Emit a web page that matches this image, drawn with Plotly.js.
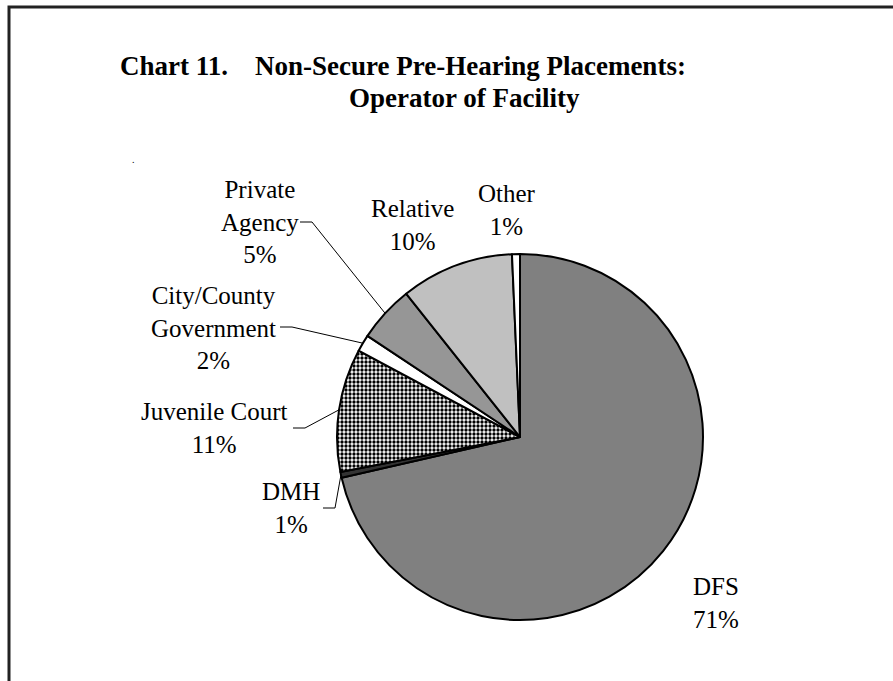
<!DOCTYPE html>
<html>
<head>
<meta charset="utf-8">
<script src="https://cdn.plot.ly/plotly-3.0.1.min.js"></script>
<style>
  html, body { margin: 0; padding: 0; background: #fff; }
  #chart { width: 893px; height: 681px; }
</style>
</head>
<body>
<div id="chart"></div>
<script>
// Données du graphique
const operators = ['DFS', 'DMH', 'Juvenile Court', 'City/County Government', 'Private Agency', 'Relative', 'Other'];
const shares = [71.5, 0.5, 10.9, 1.5, 5.0, 10.0, 0.7];
const shownPct = ['71%', '1%', '11%', '2%', '5%', '10%', '1%'];
const labelLines = ['DFS', 'DMH', 'Juvenile Court', 'City/County<br>Government', 'Private<br>Agency', 'Relative', 'Other'];

const W = 893, H = 681;
const fill = ['#808080', '#333333', '#ffffff', '#ffffff', '#969696', '#c0c0c0', '#ffffff'];

// Géométrie du camembert (pixels)
const cx = 520, cy = 437, R = 183;
const px = x => x / W;
const py = y => 1 - y / H;

// Positions des étiquettes (centre du bloc, pixels)
const labelPos = [
    [716, 603], [291, 508], [214, 428], [213, 328], [260, 222], [412, 225], [507, 210]
];
// Départ des traits de rappel (null = pas de trait)
const leaderStart = [null, [323, 508], [293, 428], [280, 327], [300, 222], null, null];

// Angle médian de chaque part (sens horaire depuis midi)
const total = shares.reduce((t, v) => t + v, 0);
let cum = 0;
const midAngle = shares.map(v => {
    const a = (cum + v / 2) / total * 2 * Math.PI;
    cum += v;
    return a;
});

const annotations = [];
const shapes = [];

// Titre
annotations.push({
    text: 'Chart 11.\u00a0\u00a0\u00a0\u00a0Non-Secure Pre-Hearing Placements:',
    x: px(118), y: py(66), xref: 'paper', yref: 'paper',
    xanchor: 'left', yanchor: 'middle', showarrow: false,
    font: { family: 'Liberation Serif, Times New Roman, serif', size: 27, color: '#000', weight: 'bold' }
});
annotations.push({
    text: 'Operator of Facility',
    x: px(464), y: py(98), xref: 'paper', yref: 'paper',
    xanchor: 'center', yanchor: 'middle', showarrow: false,
    font: { family: 'Liberation Serif, Times New Roman, serif', size: 27, color: '#000', weight: 'bold' }
});
annotations.push({
    text: '.', x: px(130), y: py(152), xref: 'paper', yref: 'paper',
    showarrow: false, font: { family: 'Liberation Serif, serif', size: 10, color: '#000' }
});

// Étiquettes et traits
for (let i = 0; i < operators.length; i++) {
    annotations.push({
        text: labelLines[i] + '<br>' + shownPct[i],
        x: px(labelPos[i][0]), y: py(labelPos[i][1]), xref: 'paper', yref: 'paper',
        xanchor: 'center', yanchor: 'middle', align: 'center', showarrow: false,
        font: { family: 'Liberation Serif, Times New Roman, serif', size: 25, color: '#000' }
    });
    if (leaderStart[i]) {
        const [sx, sy] = leaderStart[i];
        const ex = cx + R * Math.sin(midAngle[i]);
        const ey = cy - R * Math.cos(midAngle[i]);
        shapes.push({
            type: 'path', xref: 'paper', yref: 'paper',
            path: `M ${px(sx)} ${py(sy)} L ${px(sx + 12)} ${py(sy)} L ${px(ex)} ${py(ey)}`,
            line: { color: '#000', width: 1 }
        });
    }
}

// Cadre (haut et gauche)
shapes.push({
    type: 'path', xref: 'paper', yref: 'paper',
    path: `M ${px(9)} ${py(H + 5)} L ${px(9)} ${py(7)} L ${px(W + 5)} ${py(7)}`,
    line: { color: '#222', width: 3 }
});

Plotly.newPlot('chart', [{
    type: 'pie',
    labels: operators,
    values: shares,
    sort: false,
    direction: 'clockwise',
    rotation: 0,
    textinfo: 'none',
    hoverinfo: 'label+percent',
    marker: {
        colors: fill,
        line: { color: '#000', width: 2 },
        pattern: {
            shape: ['', '', '.', '', '', '', ''],
            fgcolor: '#000',
            bgcolor: '#fff',
            size: 4,
            solidity: 0.55
        }
    },
    domain: { x: [px(cx - R), px(cx + R)], y: [py(cy + R), py(cy - R)] }
}], {
    width: W,
    height: H,
    margin: { l: 0, r: 0, t: 0, b: 0 },
    showlegend: false,
    paper_bgcolor: '#fff',
    annotations: annotations,
    shapes: shapes
}, {
    displayModeBar: false,
    staticPlot: true
});
</script>
</body>
</html>
